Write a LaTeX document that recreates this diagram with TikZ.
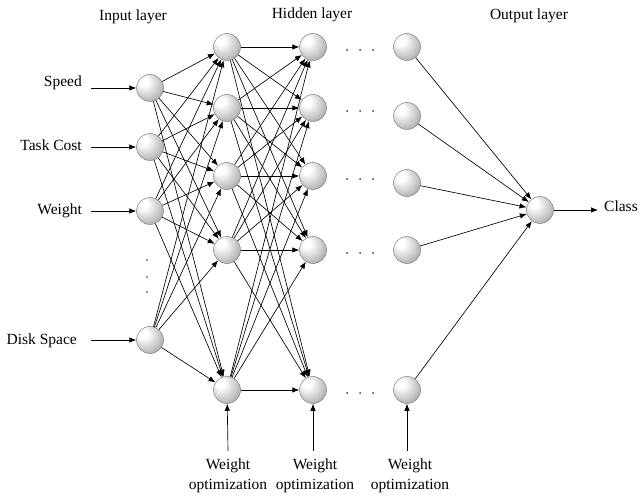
\documentclass[tikz,border=0pt]{standalone}
\usepackage{fontspec}
\setmainfont{Liberation Serif}
\usetikzlibrary{arrows.meta}
\pgfdeclareradialshading{softball}{\pgfpoint{-14bp}{14bp}}{color(0bp)=(white); color(8bp)=(white); color(28bp)=(black!25); color(45bp)=(black!50); color(60bp)=(black!60)}
\begin{document}
\begin{tikzpicture}[x=1pt,y=-1pt,
  neuron/.style={circle, minimum size=27pt, inner sep=0pt, draw=black!50, line width=0.5pt, shading=softball},
  conn/.style={-{Latex[length=7pt,width=5.5pt]}, line width=0.65pt},
  lbl/.style={font=\fontsize{15.5}{19.5}\selectfont, inner sep=0pt},
  dotm/.style={circle, fill=black!80, inner sep=0pt, minimum size=2pt}]
\useasboundingbox (0,0) rectangle (640,497);
% titles
\node[lbl] (tin) at (133,17) {Input layer};
\node[lbl] (thid) at (312,15) {Hidden layer};
\node[lbl] (tout) at (529,16) {Output layer};
% input layer
\foreach \i/\y in {1/88,2/147,3/211,4/340} \node[neuron] (i\i) at (150,\y) {};
% hidden layers
\foreach \j/\y in {1/47,2/108,3/176,4/250,5/390} {
  \node[neuron] (a\j) at (227,\y) {};
  \node[neuron] (b\j) at (313,\y) {};
}
\foreach \j/\y in {1/47,2/116,3/183,4/250,5/390} \node[neuron] (c\j) at (407,\y) {};
% output
\node[neuron] (o) at (540,210) {};
% input labels
\node[lbl, anchor=east] (ls) at (82,83) {Speed};
\node[lbl, anchor=east] (lt) at (82,145) {Task Cost};
\node[lbl, anchor=east] (lw) at (82,211) {Weight};
\node[lbl, anchor=east] (ld) at (77,341) {Disk Space};
\coordinate (s1) at (91,88);
\coordinate (s2) at (91,147);
\coordinate (s3) at (91,211);
\coordinate (s4) at (91,340);
\foreach \i in {1,...,4} \draw[conn] (s\i) -- (i\i);
% vertical dots
\foreach \y in {260,277,292} \node[dotm, minimum size=1.8pt] at (147,\y) {};
% input -> hidden1
\foreach \i in {1,...,4} \foreach \j in {1,...,5} \draw[conn] (i\i) -- (a\j);
% hidden1 -> hidden2
\foreach \i in {1,...,5} \foreach \j in {1,...,5} \draw[conn] (a\i) -- (b\j);
% dots between hidden2 and hidden3
\foreach \y in {50,111,179,253,393} \foreach \x in {347,360,373} \node[dotm] at (\x,\y) {};
% hidden3 -> output
\foreach \j in {1,...,5} \draw[conn] (c\j) -- (o);
% class
\coordinate (cl) at (598,210);
\draw[conn] (o) -- (cl);
\node[lbl, anchor=west] (lclass) at (604,206) {Class};
% weight optimization
\node[lbl, align=center] (w1) at (228,476) {Weight\\optimization};
\node[lbl, align=center] (w2) at (315,476) {Weight\\optimization};
\node[lbl, align=center] (w3) at (410,476) {Weight\\optimization};
\coordinate (u1) at (228,451);
\coordinate (u2) at (313,451);
\coordinate (u3) at (407,451);
\draw[conn] (u1) -- (a5);
\draw[conn] (u2) -- (b5);
\draw[conn] (u3) -- (c5);
\end{tikzpicture}
\end{document}
